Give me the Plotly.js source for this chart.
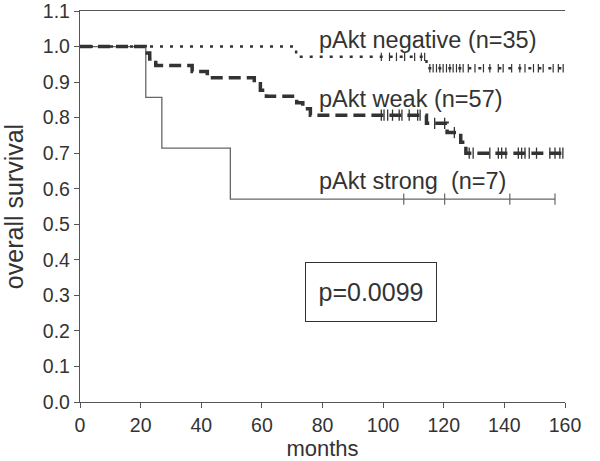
<!DOCTYPE html>
<html>
<head>
<meta charset="utf-8">
<script src="https://cdn.plot.ly/plotly-3.0.1.min.js"></script>
<style>html,body{margin:0;padding:0;background:#fff}#chart{width:600px;height:461px}</style>
</head>
<body>
<div id="chart"></div>
<script>
// Kaplan-Meier step data (months, survival)
var negTimes = [0, 71.3, 114.3, 159.5];
var negSurv  = [1.0, 0.971, 0.939, 0.939];
var negCensor = [99.4, 102.1, 104.4, 107.1, 110.4, 112.6, 113.7, 115.4, 116.5, 117.6, 118.7, 119.8, 120.9, 122.0, 123.1, 124.2, 125.3, 126.4, 128.1, 130.3, 133.1, 135.2, 138.0, 139.6, 142.4, 145.1, 146.8, 149.6, 151.2, 152.8, 156.1, 157.8, 159.4];

var weakTimes = [0, 21.5, 23, 25, 37, 42, 57.5, 59.5, 61.5, 71.5, 73.5, 76, 114.3, 121.1, 125.6, 127.3, 159.3];
var weakSurv  = [1.0, 0.982, 0.965, 0.947, 0.930, 0.912, 0.895, 0.877, 0.860, 0.842, 0.825, 0.807, 0.784, 0.758, 0.731, 0.700, 0.700];
var weakCensor = [99.4, 100.3, 101.5, 103.1, 105.3, 106.2, 108.6, 111.4, 112.2, 117.0, 120.3, 123.5, 128.4, 129.7, 135.2, 138.0, 139.1, 140.5, 144.6, 145.7, 146.8, 148.2, 150.6, 155.0, 156.7, 158.3, 159.3];

var strongTimes = [0, 21.7, 27, 49.6, 156.7];
var strongSurv  = [1.0, 0.857, 0.714, 0.571, 0.571];
var strongCensor = [106.8, 120.3, 141.8, 156.7];

var xTicks = [0, 20, 40, 60, 80, 100, 120, 140, 160];
var yTicks = [0.0, 0.1, 0.2, 0.3, 0.4, 0.5, 0.6, 0.7, 0.8, 0.9, 1.0, 1.1];

var labels = ["pAkt negative (n=35)", "pAkt weak (n=57)", "pAkt strong  (n=7)"];
var pText = "p=0.0099";

function levelAt(times, surv, t) {
  var v = surv[0];
  for (var i = 0; i < times.length; i++) { if (times[i] <= t) v = surv[i]; }
  return v;
}
function censorY(times, surv, cs) { return cs.map(function (t) { return levelAt(times, surv, t); }); }

var dark = '#333333';
var grey = '#666666';
var traces = [
  {x: strongTimes, y: strongSurv, mode: 'lines', line: {shape: 'hv', color: grey, width: 1.3}},
  {x: strongCensor, y: censorY(strongTimes, strongSurv, strongCensor), mode: 'markers',
   marker: {symbol: 'line-ns-open', size: 8, color: grey, line: {color: grey, width: 1.2}}},
  {x: negTimes, y: negSurv, mode: 'lines', line: {shape: 'hv', color: dark, width: 2.5, dash: '3px,7px'}},
  {x: negCensor, y: censorY(negTimes, negSurv, negCensor), mode: 'markers',
   marker: {symbol: 'line-ns-open', size: 6, color: dark, line: {color: dark, width: 1.2}}},
  {x: weakTimes, y: weakSurv, mode: 'lines', line: {shape: 'hv', color: dark, width: 3.5, dash: '12px,6px'}},
  {x: weakCensor, y: censorY(weakTimes, weakSurv, weakCensor), mode: 'markers',
   marker: {symbol: 'line-ns-open', size: 8, color: dark, line: {color: dark, width: 1.3}}}
];

var fontFam = 'Liberation Sans, Arial, Helvetica, sans-serif';
var layout = {
  width: 600, height: 461,
  margin: {l: 80, r: 35, t: 11, b: 59},
  showlegend: false,
  paper_bgcolor: '#fff', plot_bgcolor: '#fff',
  font: {family: fontFam, color: dark},
  xaxis: {
    range: [0, 160], tickvals: xTicks, ticktext: xTicks.map(String),
    showgrid: false, zeroline: false, showline: true, linecolor: '#555', linewidth: 1.2,
    mirror: true, ticks: 'outside', ticklen: 5, tickcolor: '#555',
    tickfont: {size: 19.5, color: dark}, ticklabeloverflow: 'allow',
    title: {text: 'months', font: {size: 22, color: dark}, standoff: 1}
  },
  yaxis: {
    range: [0, 1.1], tickvals: yTicks, ticktext: yTicks.map(function (v) { return v.toFixed(1); }),
    showgrid: false, zeroline: false, showline: true, linecolor: '#555', linewidth: 1.2,
    ticks: 'outside', ticklen: 5, tickcolor: '#555',
    tickfont: {size: 19.5, color: dark}, ticklabeloverflow: 'allow',
    title: {text: 'overall survival', font: {size: 25, color: dark}, standoff: 12}
  },
  annotations: [
    {x: 78.3, y: 1.018, xref: 'x', yref: 'y', text: labels[0], showarrow: false, xanchor: 'left', yanchor: 'middle', font: {size: 23.5, color: dark}},
    {x: 78.3, y: 0.852, xref: 'x', yref: 'y', text: labels[1], showarrow: false, xanchor: 'left', yanchor: 'middle', font: {size: 23.5, color: dark}},
    {x: 78.3, y: 0.622, xref: 'x', yref: 'y', text: labels[2], showarrow: false, xanchor: 'left', yanchor: 'middle', font: {size: 23.5, color: dark}},
    {x: 95.9, y: 0.309, xref: 'x', yref: 'y', text: pText, showarrow: false, xanchor: 'center', yanchor: 'middle',
     font: {size: 25, color: dark}, bordercolor: dark, borderwidth: 1, borderpad: 0, width: 130, height: 58, bgcolor: '#fff'}
  ]
};

Plotly.newPlot('chart', traces, layout, {staticPlot: true, displayModeBar: false});
</script>
</body>
</html>
